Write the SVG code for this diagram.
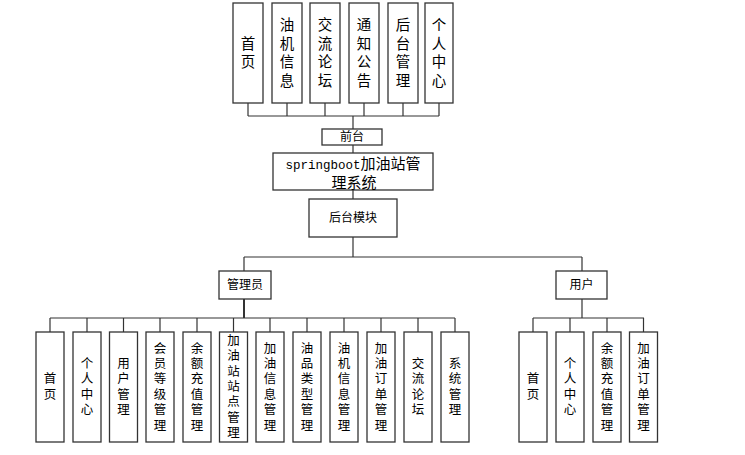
<svg xmlns="http://www.w3.org/2000/svg" width="745" height="455" viewBox="0 0 745 455">
<style>
.b{fill:#fff;stroke:#333;stroke-width:1.3}
.c line{stroke:#333;stroke-width:1.2}
text{font-family:"Liberation Sans","Noto Sans CJK SC",sans-serif;fill:#000;text-anchor:middle;dominant-baseline:central}
.t text{font-size:14.5px}
.s text{font-size:12.5px}
.h{font-size:12px}
</style>
<rect width="745" height="455" fill="#fff"/>
<g class="c" id="connectors">
<line x1="248" y1="103" x2="248" y2="116"/>
<line x1="287" y1="103" x2="287" y2="116"/>
<line x1="325" y1="103" x2="325" y2="116"/>
<line x1="364" y1="103" x2="364" y2="116"/>
<line x1="403" y1="103" x2="403" y2="116"/>
<line x1="439" y1="103" x2="439" y2="116"/>
<line x1="248" y1="116" x2="439" y2="116"/>
<line x1="353" y1="116" x2="353" y2="129"/>
<line x1="353" y1="145" x2="353" y2="153"/>
<line x1="353" y1="190" x2="353" y2="199"/>
<line x1="353" y1="237" x2="353" y2="257"/>
<line x1="244" y1="257" x2="582" y2="257"/>
<line x1="244" y1="257" x2="244" y2="271"/>
<line x1="582" y1="257" x2="582" y2="271"/>
<line x1="244" y1="299" x2="244" y2="318" style="stroke-width:2"/>
<line x1="582" y1="299" x2="582" y2="318"/>
<line x1="50" y1="318" x2="455" y2="318"/>
<line x1="533" y1="318" x2="644" y2="318"/>
<line x1="50" y1="318" x2="50" y2="332"/>
<line x1="87" y1="318" x2="87" y2="332"/>
<line x1="123.5" y1="318" x2="123.5" y2="332"/>
<line x1="160" y1="318" x2="160" y2="332"/>
<line x1="197" y1="318" x2="197" y2="332"/>
<line x1="233.5" y1="318" x2="233.5" y2="332"/>
<line x1="270" y1="318" x2="270" y2="332"/>
<line x1="307" y1="318" x2="307" y2="332"/>
<line x1="344" y1="318" x2="344" y2="332"/>
<line x1="381" y1="318" x2="381" y2="332"/>
<line x1="418" y1="318" x2="418" y2="332"/>
<line x1="455" y1="318" x2="455" y2="332"/>
<line x1="533" y1="318" x2="533" y2="332"/>
<line x1="570" y1="318" x2="570" y2="332"/>
<line x1="607" y1="318" x2="607" y2="332"/>
<line x1="643.5" y1="318" x2="643.5" y2="332"/>
</g>
<!-- top row -->
<g id="top1" class="t"><rect class="b" x="233" y="3" width="30" height="100"/><text x="248" y="43.75">首</text><text x="248" y="62.25">页</text></g>
<g id="top2" class="t"><rect class="b" x="272" y="3" width="30" height="100"/><text x="287" y="25.25">油</text><text x="287" y="43.75">机</text><text x="287" y="62.25">信</text><text x="287" y="80.75">息</text></g>
<g id="top3" class="t"><rect class="b" x="310" y="3" width="30" height="100"/><text x="325" y="25.25">交</text><text x="325" y="43.75">流</text><text x="325" y="62.25">论</text><text x="325" y="80.75">坛</text></g>
<g id="top4" class="t"><rect class="b" x="349" y="3" width="30" height="100"/><text x="364" y="25.25">通</text><text x="364" y="43.75">知</text><text x="364" y="62.25">公</text><text x="364" y="80.75">告</text></g>
<g id="top5" class="t"><rect class="b" x="388" y="3" width="30" height="100"/><text x="403" y="25.25">后</text><text x="403" y="43.75">台</text><text x="403" y="62.25">管</text><text x="403" y="80.75">理</text></g>
<g id="top6" class="t"><rect class="b" x="425" y="3" width="28" height="100"/><text x="439" y="25.25">个</text><text x="439" y="43.75">人</text><text x="439" y="62.25">中</text><text x="439" y="80.75">心</text></g>
<!-- middle -->
<g id="qiantai"><rect class="b" x="322" y="129" width="60" height="16"/><text class="h" x="352" y="137">前台</text></g>
<g id="system"><rect class="b" x="273" y="153" width="160" height="37"/>
<text x="353" y="168.5" style="font-size:15px;dominant-baseline:auto"><tspan style="font-family:'Liberation Mono',monospace;font-size:12.5px">springboot</tspan>加油站管</text>
<text x="354" y="187.5" style="font-size:15px;dominant-baseline:auto">理系统</text></g>
<g id="houtai"><rect class="b" x="309" y="199" width="88" height="38"/><text class="h" x="353" y="218">后台模块</text></g>
<g id="admin"><rect class="b" x="219" y="271" width="52" height="28"/><text class="h" x="245" y="285">管理员</text></g>
<g id="user"><rect class="b" x="556" y="271" width="51" height="28"/><text class="h" x="581.5" y="285">用户</text></g>
<!-- admin children -->
<g id="a1" class="s"><rect class="b" x="36" y="332" width="28" height="110"/><text x="50" y="379.3">首</text><text x="50" y="394.7">页</text></g>
<g id="a2" class="s"><rect class="b" x="73" y="332" width="28" height="110"/><text x="87" y="363.9">个</text><text x="87" y="379.3">人</text><text x="87" y="394.7">中</text><text x="87" y="410.1">心</text></g>
<g id="a3" class="s"><rect class="b" x="109.5" y="332" width="28" height="110"/><text x="123.5" y="363.9">用</text><text x="123.5" y="379.3">户</text><text x="123.5" y="394.7">管</text><text x="123.5" y="410.1">理</text></g>
<g id="a4" class="s"><rect class="b" x="146" y="332" width="28" height="110"/><text x="160" y="348.5">会</text><text x="160" y="363.9">员</text><text x="160" y="379.3">等</text><text x="160" y="394.7">级</text><text x="160" y="410.1">管</text><text x="160" y="425.5">理</text></g>
<g id="a5" class="s"><rect class="b" x="183" y="332" width="28" height="110"/><text x="197" y="348.5">余</text><text x="197" y="363.9">额</text><text x="197" y="379.3">充</text><text x="197" y="394.7">值</text><text x="197" y="410.1">管</text><text x="197" y="425.5">理</text></g>
<g id="a6" class="s"><rect class="b" x="219.5" y="332" width="28" height="110"/><text x="233.5" y="340.8">加</text><text x="233.5" y="356.2">油</text><text x="233.5" y="371.6">站</text><text x="233.5" y="387">站</text><text x="233.5" y="402.4">点</text><text x="233.5" y="417.8">管</text><text x="233.5" y="433.2">理</text></g>
<g id="a7" class="s"><rect class="b" x="256" y="332" width="28" height="110"/><text x="270" y="348.5">加</text><text x="270" y="363.9">油</text><text x="270" y="379.3">信</text><text x="270" y="394.7">息</text><text x="270" y="410.1">管</text><text x="270" y="425.5">理</text></g>
<g id="a8" class="s"><rect class="b" x="293" y="332" width="28" height="110"/><text x="307" y="348.5">油</text><text x="307" y="363.9">品</text><text x="307" y="379.3">类</text><text x="307" y="394.7">型</text><text x="307" y="410.1">管</text><text x="307" y="425.5">理</text></g>
<g id="a9" class="s"><rect class="b" x="330" y="332" width="28" height="110"/><text x="344" y="348.5">油</text><text x="344" y="363.9">机</text><text x="344" y="379.3">信</text><text x="344" y="394.7">息</text><text x="344" y="410.1">管</text><text x="344" y="425.5">理</text></g>
<g id="a10" class="s"><rect class="b" x="367" y="332" width="28" height="110"/><text x="381" y="348.5">加</text><text x="381" y="363.9">油</text><text x="381" y="379.3">订</text><text x="381" y="394.7">单</text><text x="381" y="410.1">管</text><text x="381" y="425.5">理</text></g>
<g id="a11" class="s"><rect class="b" x="404" y="332" width="28" height="110"/><text x="418" y="363.9">交</text><text x="418" y="379.3">流</text><text x="418" y="394.7">论</text><text x="418" y="410.1">坛</text></g>
<g id="a12" class="s"><rect class="b" x="441" y="332" width="28" height="110"/><text x="455" y="363.9">系</text><text x="455" y="379.3">统</text><text x="455" y="394.7">管</text><text x="455" y="410.1">理</text></g>
<!-- user children -->
<g id="u1" class="s"><rect class="b" x="519" y="332" width="28" height="110"/><text x="533" y="379.3">首</text><text x="533" y="394.7">页</text></g>
<g id="u2" class="s"><rect class="b" x="556" y="332" width="28" height="110"/><text x="570" y="363.9">个</text><text x="570" y="379.3">人</text><text x="570" y="394.7">中</text><text x="570" y="410.1">心</text></g>
<g id="u3" class="s"><rect class="b" x="593" y="332" width="28" height="110"/><text x="607" y="348.5">余</text><text x="607" y="363.9">额</text><text x="607" y="379.3">充</text><text x="607" y="394.7">值</text><text x="607" y="410.1">管</text><text x="607" y="425.5">理</text></g>
<g id="u4" class="s"><rect class="b" x="629.5" y="332" width="28" height="110"/><text x="643.5" y="348.5">加</text><text x="643.5" y="363.9">油</text><text x="643.5" y="379.3">订</text><text x="643.5" y="394.7">单</text><text x="643.5" y="410.1">管</text><text x="643.5" y="425.5">理</text></g>
</svg>
